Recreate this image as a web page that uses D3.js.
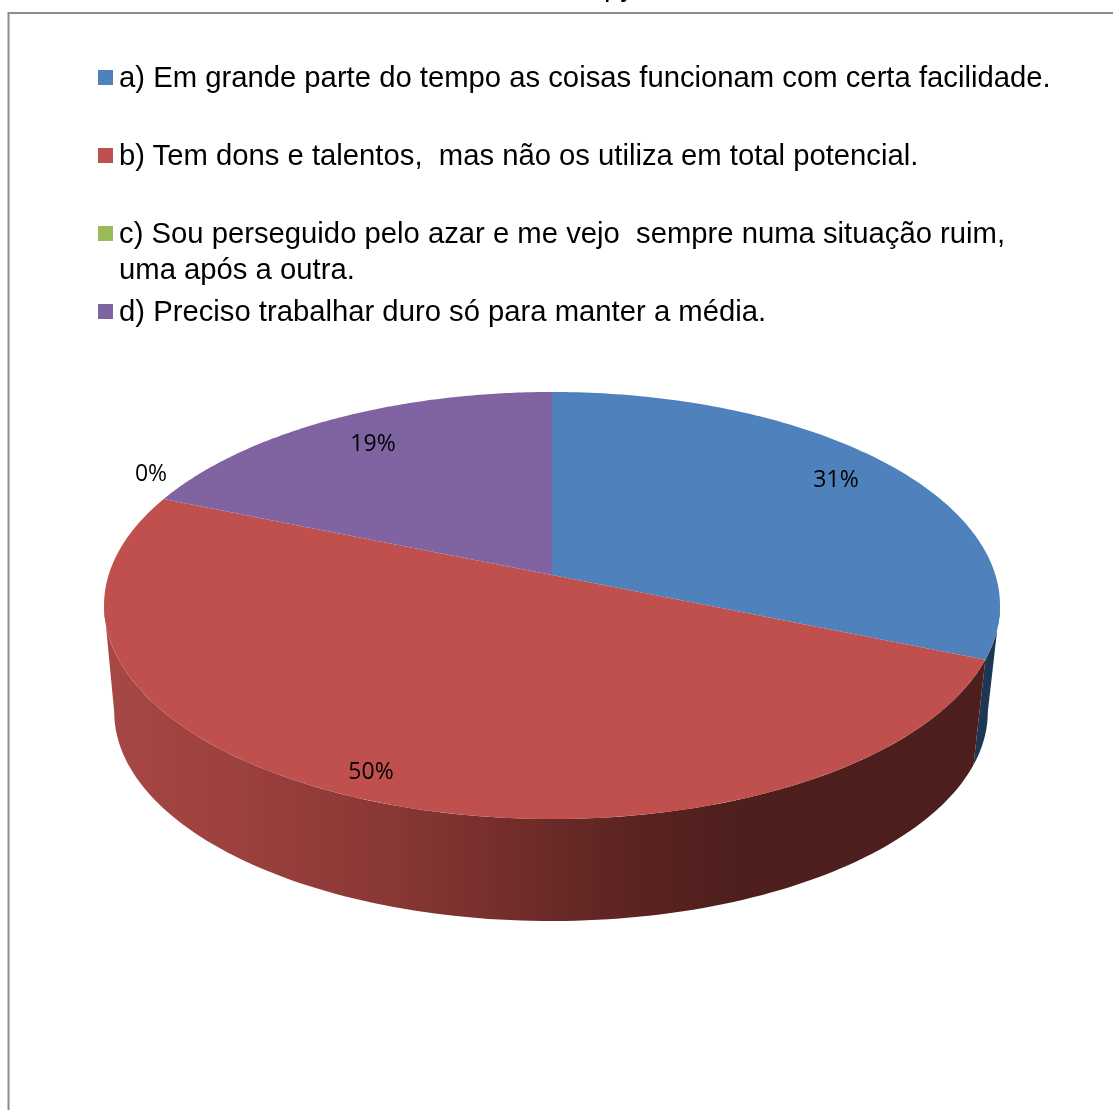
<!DOCTYPE html>
<html lang="pt">
<head>
<meta charset="utf-8">
<script src="https://cdn.jsdelivr.net/npm/d3@7/dist/d3.min.js"></script>
<style>
html,body{margin:0;padding:0;background:#fff;overflow:hidden}
svg{display:block;filter:blur(.35px)}
</style>
</head>
<body>
<svg id="chart" width="1113" height="1110"></svg>
<script>
const categories = [
  ["a) Em grande parte do tempo as coisas funcionam com certa facilidade."],
  ["b) Tem dons e talentos,  mas não os utiliza em total potencial."],
  ["c) Sou perseguido pelo azar e me vejo  sempre numa situação ruim,", "uma após a outra."],
  ["d) Preciso trabalhar duro só para manter a média."]
];
const percentValues = [31.25, 50, 0, 18.75];
const topColors = ["#4f81bd", "#c0504d", "#9bbb59", "#8064a2"];
const sideColors = ["#1d3653", "#7a2e2b", "#5d7034", "#4c3b62"];
const percentText = v => d3.format(".0f")(v) + "%";

const svg = d3.select("#chart");
const defs = svg.append("defs");

// Frame around the chart area; only the top and left edges fall inside the page.
svg.append("path")
  .attr("d", "M8.5 1110V13H1113")
  .attr("fill", "none").attr("stroke", "#8c8c8c").attr("stroke-width", 2);

// Fragment of the caption above the frame, cut off by the page edge.
svg.append("text").attr("x", 604).attr("y", -4)
  .attr("font-family", "Liberation Sans").attr("font-size", 29).text("py");

// Legend
const legendY = d3.scalePoint().domain(d3.range(4)).range([78, 312]);
const legend = svg.append("g").attr("font-family", "Liberation Sans").attr("font-size", 29.25).attr("fill", "#000");
categories.forEach((lines, i) => {
  const y = legendY(i);
  legend.append("rect").attr("x", 98).attr("y", y - 8).attr("width", 15).attr("height", 15).attr("fill", topColors[i]);
  lines.forEach((line, j) => {
    legend.append("text").attr("x", 119).attr("y", y + 9 + j * 36)
      .attr("xml:space", "preserve").style("white-space", "pre").text(line);
  });
});

// Tilted disc: a perspective projection of the unit circle, so the slice apex
// sits above the centre of the outline ellipse.
const cx = 552, radius = 443.4, persp = -0.1429, yA = 127, yB = 575;
const project = ang => {
  const u = Math.sin(ang), v = -Math.cos(ang), w = 1 + persp * v;
  return [cx + radius * u / w, (yA * v + yB) / w];
};
// Lower rim of the disc: slightly narrower, about 102px below the top face.
const rimScale = 0.975, rimDrop = 102;
const projectRim = ang => {
  const [x, y] = project(ang);
  return [cx - 1 + (x - cx) * rimScale, 819 + rimDrop + (y - 819) * 0.98];
};

const arcs = d3.pie().sort(null).value(d => d).startAngle(0).endAngle(2 * Math.PI)(percentValues);
const line = d3.line();
const sample = (a0, a1, fn) => d3.range(0, 121).map(i => fn(a0 + (a1 - a0) * i / 120));

// Shading of the visible side wall, dark toward the right.
const wallX = d3.scaleLinear().domain([0, 1]).range([104, 1000]);
const grad = defs.append("linearGradient").attr("id", "redWall")
  .attr("gradientUnits", "userSpaceOnUse")
  .attr("x1", wallX(0)).attr("x2", wallX(1)).attr("y1", 0).attr("y2", 0);
[[0, "#a64845"], [0.1, "#a04340"], [0.2, "#963e3b"], [0.33, "#873734"], [0.44, "#762e2c"],
 [0.5, "#6a2a27"], [0.6, "#5a2321"], [0.7, "#4e1f1d"], [1, "#4c1e1d"]]
  .forEach(([o, c]) => grad.append("stop").attr("offset", o).attr("stop-color", c));

// Side walls run between the two silhouette tangents of the disc.
const tangent = Math.acos(persp);
const frontStart = tangent, frontEnd = 2 * Math.PI - tangent;
arcs.forEach((d, i) => {
  const a0 = Math.max(d.startAngle, frontStart), a1 = Math.min(d.endAngle, frontEnd);
  if (a1 <= a0) return;
  const pts = sample(a0, a1, project).concat(sample(a1, a0, projectRim));
  svg.append("path").attr("d", line(pts) + "Z")
    .attr("fill", i === 1 ? "url(#redWall)" : sideColors[i]);
});

// Top faces
arcs.forEach((d, i) => {
  if (d.endAngle <= d.startAngle) return;
  const pts = [[cx, yB]].concat(sample(d.startAngle, d.endAngle, project));
  svg.append("path").attr("d", line(pts) + "Z").attr("fill", topColors[i]);
});

// Percent labels
const labelSpots = [[836, 479], [371, 771], [151, 473], [373, 443]];
svg.append("g").attr("font-family", "Open Sans").attr("font-size", 23).attr("fill", "#000")
  .attr("text-anchor", "middle")
  .selectAll("text").data(percentValues).join("text")
  .attr("x", (d, i) => labelSpots[i][0]).attr("y", (d, i) => labelSpots[i][1] + 8).text(percentText);
</script>
</body>
</html>
